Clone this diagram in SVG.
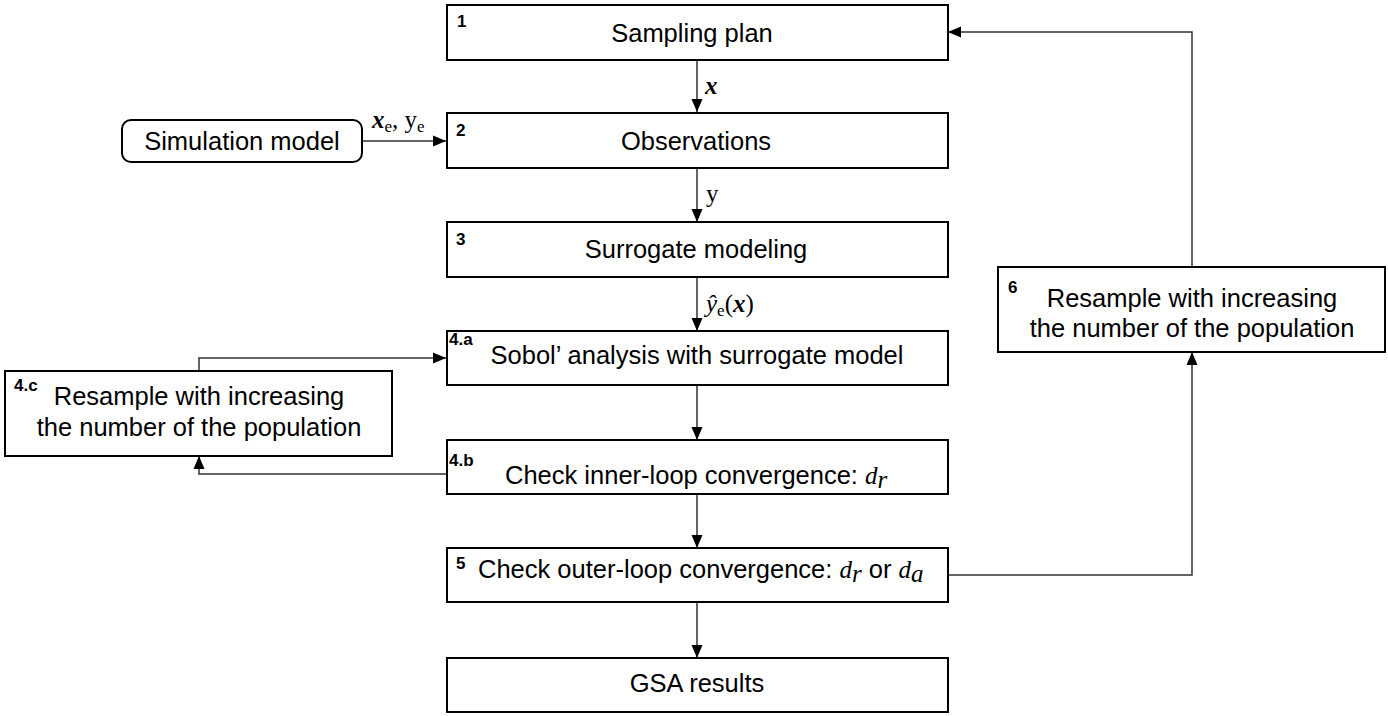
<svg xmlns="http://www.w3.org/2000/svg" width="1388" height="716" viewBox="0 0 1388 716">
<style>
.box{fill:#fff;stroke:#000;stroke-width:2}
.t{font-family:"Liberation Sans",Arial,sans-serif;font-size:25.5px;fill:#000}
.n{font-family:"Liberation Sans",Arial,sans-serif;font-size:17px;font-weight:bold;fill:#000}
.m{font-family:"Liberation Serif","Times New Roman",serif;font-size:25px;fill:#000}
.mi{font-style:italic}
.mb{font-style:italic;font-weight:bold}
.c{fill:none;stroke:#333;stroke-width:1.5}
</style>
<defs>
<marker id="ah" markerUnits="userSpaceOnUse" markerWidth="14" markerHeight="14" viewBox="0 0 14 14" refX="13" refY="7" orient="auto">
<path d="M0,1.5 L13,7 L0,12.5 Z" fill="#000"/>
</marker>
</defs>
<g id="connectors">
<line class="c" x1="697" y1="61" x2="697" y2="112" marker-end="url(#ah)"/>
<line class="c" x1="697" y1="169" x2="697" y2="222" marker-end="url(#ah)"/>
<line class="c" x1="697" y1="278" x2="697" y2="331" marker-end="url(#ah)"/>
<line class="c" x1="697" y1="386" x2="697" y2="440" marker-end="url(#ah)"/>
<line class="c" x1="697" y1="495" x2="697" y2="548" marker-end="url(#ah)"/>
<line class="c" x1="697" y1="603" x2="697" y2="658" marker-end="url(#ah)"/>
<line class="c" x1="362" y1="141" x2="446" y2="141" marker-end="url(#ah)"/>
<polyline class="c" points="199,371 199,358 446,358" marker-end="url(#ah)"/>
<polyline class="c" points="446,474 199,474 199,456" marker-end="url(#ah)"/>
<polyline class="c" points="948,575 1192,575 1192,352" marker-end="url(#ah)"/>
<polyline class="c" points="1192,267 1192,32 948,32" marker-end="url(#ah)"/>
<text class="m mb" x="705" y="94">x</text>
<text class="m" x="706" y="202">y</text>
<text class="m" x="706" y="312"><tspan class="mi">ŷ</tspan><tspan font-size="17" dy="4">e</tspan><tspan dy="-4">(</tspan><tspan class="mb">x</tspan>)</text>
<text class="m" x="372" y="128"><tspan class="mb">x</tspan><tspan font-size="17" dy="4">e</tspan><tspan dy="-4">, y</tspan><tspan font-size="17" dy="4">e</tspan></text>
</g>
<g id="n1">
<rect class="box" x="447" y="5" width="501" height="55"/>
<text class="n" x="457" y="27">1</text>
<text class="t" x="692" y="42" text-anchor="middle">Sampling plan</text>
</g>
<g id="n2">
<rect class="box" x="447" y="113" width="501" height="55"/>
<text class="n" x="456" y="136">2</text>
<text class="t" x="696" y="150" text-anchor="middle">Observations</text>
</g>
<g id="sim">
<rect class="box" x="122" y="120" width="240" height="42" rx="9"/>
<text class="t" x="242" y="150" text-anchor="middle">Simulation model</text>
</g>
<g id="n3">
<rect class="box" x="447" y="222" width="501" height="55"/>
<text class="n" x="456" y="245">3</text>
<text class="t" x="696" y="258" text-anchor="middle">Surrogate modeling</text>
</g>
<g id="n4a">
<rect class="box" x="447" y="331" width="501" height="54"/>
<text class="n" x="449" y="345">4.a</text>
<text class="t" x="697" y="364" text-anchor="middle">Sobol’ analysis with surrogate model</text>
</g>
<g id="n4b">
<rect class="box" x="447" y="440" width="501" height="54"/>
<text class="n" x="449" y="466">4.b</text>
<text class="t" x="505" y="484">Check inner-loop convergence: <tspan class="m mi">d</tspan><tspan class="m mi" font-size="17" dy="4">r</tspan></text>
</g>
<g id="n4c">
<rect class="box" x="5" y="371" width="387" height="85"/>
<text class="n" x="14" y="391">4.c</text>
<text class="t" x="199" y="405" text-anchor="middle">Resample with increasing</text>
<text class="t" x="199" y="436" text-anchor="middle">the number of the population</text>
</g>
<g id="n5">
<rect class="box" x="447" y="548" width="501" height="54"/>
<text class="n" x="456" y="569">5</text>
<text class="t" x="478" y="578">Check outer-loop convergence: <tspan class="m mi">d</tspan><tspan class="m mi" font-size="17" dy="4">r</tspan><tspan dy="-4"> or </tspan><tspan class="m mi">d</tspan><tspan class="m mi" font-size="17" dy="4">a</tspan></text>
</g>
<g id="n6">
<rect class="box" x="998" y="267" width="387" height="85"/>
<text class="n" x="1008" y="293">6</text>
<text class="t" x="1192" y="307" text-anchor="middle">Resample with increasing</text>
<text class="t" x="1192" y="337" text-anchor="middle">the number of the population</text>
</g>
<g id="n7">
<rect class="box" x="447" y="658" width="501" height="54"/>
<text class="t" x="697" y="692" text-anchor="middle">GSA results</text>
</g>
</svg>
